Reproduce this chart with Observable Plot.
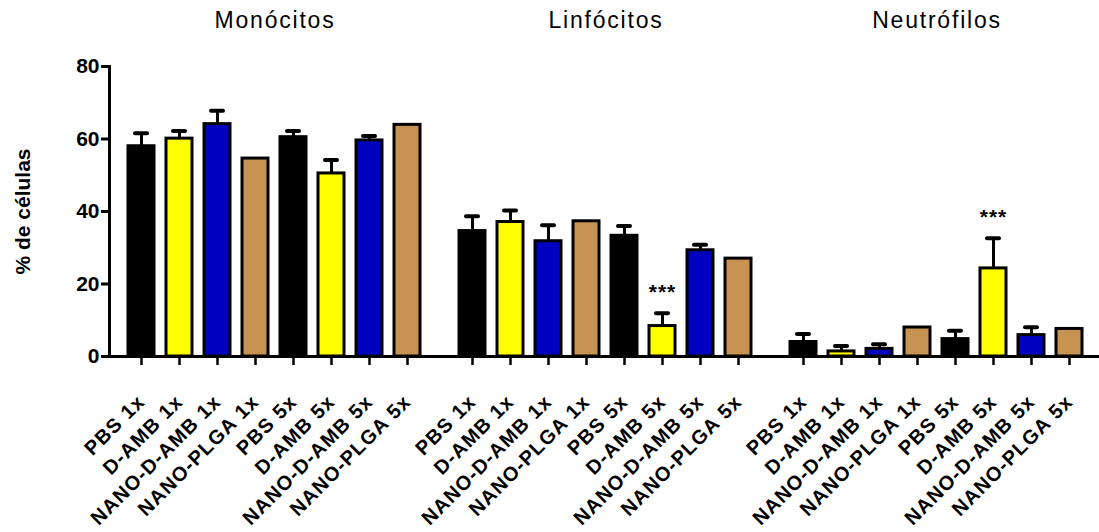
<!DOCTYPE html>
<html>
<head>
<meta charset="utf-8">
<script src="https://cdn.jsdelivr.net/npm/d3@7"></script>
<script src="https://cdn.jsdelivr.net/npm/@observablehq/plot@0.6"></script>
<style>
  html, body { margin: 0; padding: 0; background: #fff; }
  g[aria-label="fx-axis tick label"] text { letter-spacing: 1.8px; }
  g[aria-label="x-axis tick label"] text { letter-spacing: 1.1px; }
  g[aria-label="text"] text { letter-spacing: 1px; }
</style>
</head>
<body>
<div id="chart"></div>
<script>
// Groups (cell types) and treatments
const groups = ["Monócitos", "Linfócitos", "Neutrófilos"];
const treatments = ["PBS 1x", "D-AMB 1x", "NANO-D-AMB 1x", "NANO-PLGA 1x", "PBS 5x", "D-AMB 5x", "NANO-D-AMB 5x", "NANO-PLGA 5x"];
const barColors = ["#000000", "#FFFF00", "#0000C0", "#C69352", "#000000", "#FFFF00", "#0000C0", "#C69352"];

// Mean % of cells
const monocitos   = [58.0, 60.1, 64.1, 54.6, 60.5, 50.5, 59.6, 63.9];
const linfocitos  = [34.6, 37.1, 31.8, 37.3, 33.3, 8.4, 29.3, 27.0];
const neutrofilos = [4.0, 1.4, 2.1, 8.0, 4.8, 24.3, 5.9, 7.6];

// Error (upper whisker)
const monocitosErr   = [3.6, 2.1, 3.7, 0, 1.7, 3.7, 1.2, 0];
const linfocitosErr  = [4.1, 3.2, 4.4, 0, 2.7, 3.5, 1.5, 0];
const neutrofilosErr = [2.2, 1.5, 1.3, 0, 2.3, 8.3, 2.2, 0];

// Significance marks
const monocitosSig   = ["", "", "", "", "", "", "", ""];
const linfocitosSig  = ["", "", "", "", "", "***", "", ""];
const neutrofilosSig = ["", "", "", "", "", "***", "", ""];

const yTicks = [0, 20, 40, 60, 80];
const yLabel = "% de células";

const values = [monocitos, linfocitos, neutrofilos];
const errors = [monocitosErr, linfocitosErr, neutrofilosErr];
const sigs = [monocitosSig, linfocitosSig, neutrofilosSig];

const rows = groups.flatMap((g, gi) => treatments.map((t, i) => ({
  group: g, treatment: t, value: values[gi][i], err: errors[gi][i], sig: sigs[gi][i]
})));
const errRows = rows.filter(d => d.err > 0);
const sigRows = rows.filter(d => d.sig);

const chart = Plot.plot({
  width: 1099,
  height: 532,
  marginLeft: 108,
  marginRight: -4,
  marginTop: 66,
  marginBottom: 176,
  style: {fontFamily: "'Liberation Sans', Arial, Helvetica, sans-serif", color: "#000", background: "#fff", overflow: "visible"},
  fx: {domain: groups, paddingInner: 0, paddingOuter: 0},
  x: {domain: treatments, paddingInner: 0.31, paddingOuter: 0.49},
  y: {domain: [0, 80]},
  color: {domain: treatments, range: barColors},
  marks: [
    Plot.axisFx({anchor: "top", tickSize: 0, tickPadding: 39, fontSize: 23, label: null}),
    Plot.axisY({ticks: yTicks, tickSize: 8, tickPadding: 2, fontSize: 21, fontWeight: "bold", strokeWidth: 3,
                label: yLabel, labelAnchor: "center", labelOffset: 94, labelArrow: "none"}),
    Plot.axisX({tickRotate: -45, tickSize: 9, tickPadding: 33, fontSize: 20, fontWeight: "bold", strokeWidth: 2.5, label: null}),
    Plot.ruleX(errRows, {fx: "group", x: "treatment", y1: "value", y2: d => d.value + d.err, stroke: "#000", strokeWidth: 3}),
    Plot.tickY(errRows, {fx: "group", x: "treatment", y: d => d.value + d.err, stroke: "#000", strokeWidth: 4, strokeLinecap: "round", insetLeft: 7, insetRight: 7}),
    Plot.barY(rows, {fx: "group", x: "treatment", y: "value", fill: "treatment", stroke: "#000", strokeWidth: 3}),
    Plot.ruleY([0], {stroke: "#000", strokeWidth: 3}),
    Plot.frame({anchor: "left", facetAnchor: "left", stroke: "#000", strokeWidth: 3}),
    Plot.text(sigRows, {fx: "group", x: "treatment", y: d => d.value + d.err, text: "sig", dy: -21, fontSize: 21, fontWeight: "bold", fill: "#000"})
  ]
});
document.getElementById("chart").appendChild(chart);
</script>
</body>
</html>
